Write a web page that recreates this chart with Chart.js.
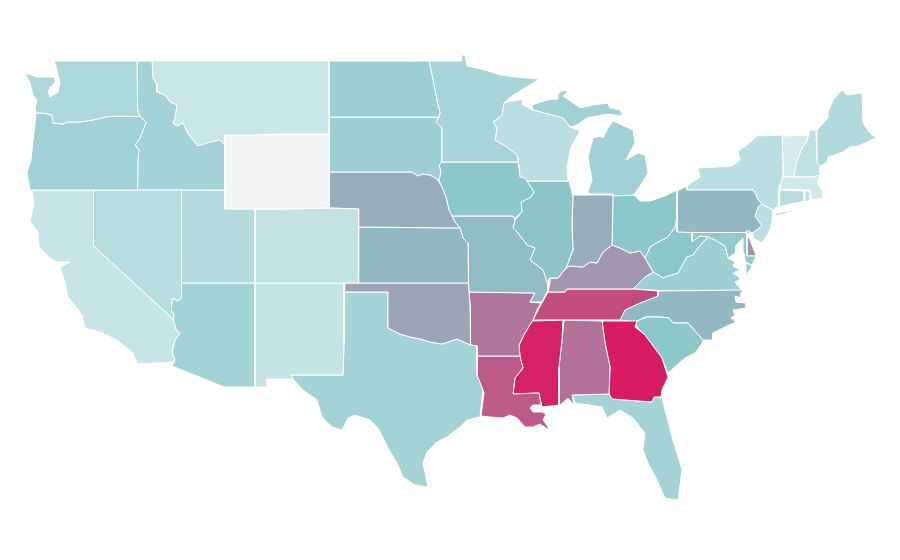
<!DOCTYPE html>
<html>
<head>
<meta charset="utf-8">
<title>US states</title>
<style>
	html, body { margin: 0; padding: 0; background: #fff; }
	canvas { display: block; }
</style>
<script src="https://cdn.jsdelivr.net/npm/chart.js@4"></script>
</head>
<body>
<canvas id="myChart" width="900" height="560"></canvas>
<script>
const states = ['WA','OR','CA','NV','ID','MT','WY','UT','CO','AZ','NM','ND','SD','NE','KS','OK','TX','MN','IA','MO','AR','LA','WI','IL','MI','IN','OH','KY','TN','MS','AL','GA','FL','SC','NC','VA','WV','MD','DE','PA','NY','NJ','CT','RI','MA','VT','NH','ME']
const values = [27,32,17,23,31,16,null,25,19,31,18,34,33,49,45,52,31,30,40,44,68,78,22,41,32,49,40,57,83,98,70,100,31,40,45,33,40,38,57,45,22,22,23,20,14,12,20,26]

// state outlines in map units, one or more flat x,y rings per state
const WA = [[54,61,137,61,137.5,110,140,116.5,108,116.5,93,120,80,122,67,122,63,124,53,123,52,115,43,113,36,113,35,108,37,100,33,95,30,83,25,73,37,77,48,77,54,77,56,82,50,87,48,92,50,97,58,92,60,82,58,76,56,66]]
const OR = [[36,113,43,113,52,115,53,123,63,124,67,122,80,122,93,120,108,116.5,140,116.5,146,122,144,128,140,138,135,145,139,150,138,157,137.5,190,30,190,27,173,31,160,33,140,35,125]]
const CA = [[32,190,93.5,190,93.5,246,173,319,176,330,180,333,175,340,172,352,175,360,172,362,137,364,133,353,117,340,100,332,85,328,82,315,68,297,65,283,60,267,70,262,57,262,50,258,39,247,38,232,30,222,34,203]]
const NV = [[93.5,190,181.5,190,181.5,298,178,301,172,298,171.5,310,174,316,173,319,93.5,246]]
const ID = [[137.5,61,152,61,153,78,157,85,157,92,165,95,170,102,177,105,175,118,173,123,177,126,183,123,187,132,191,138,198,146,207,143,220,140,225,145,225,190,137.5,190,138,157,139,150,135,145,140,138,144,128,146,122,140,116.5,137.5,110]]
const MT = [[152,61,329,61,329,134,285,134,252,135,225,135,225,145,220,140,207,143,198,146,191,138,187,132,183,123,177,126,173,123,175,118,177,105,170,102,165,95,157,92,157,85,153,78]]
const WY = [[225,135,252,135,285,134,329,134,329.5,208,285,209,255,209,225,209]]
const UT = [[181.5,190,225,190,225,209,255,209,255,283,181.5,283]]
const CO = [[255,209,285,209,329.5,208,358.6,209,358.6,283,255,283]]
const AZ = [[181.5,283,255,283,255,387,224,387,172,366,175,360,172,352,175,340,180,333,176,330,173,319,174,316,171.5,310,172,298,178,301,181.5,298]]
const NM = [[255,283,344,283,344,343,343,375,291,375,293,379,267,379,267,387,255,387]]
const ND = [[329,61,429,61,432,75,434,85,436,95,438,105,440,113,439,117,329,117]]
const SD = [[329,117,439,117,436,122,441.7,128,441.7,162,439,165,441,172,439,180,437,179,430,175,422,174,418,176,412,172,329,172]]
const NE = [[329,172,412,172,418,176,422,174,430,175,437,179,441,185,446,197,449,210,455,222,460,228,358.6,227,358.6,209,329.5,208]]
const KS = [[358.6,227,460,228,463,238,468,243,468.5,283,358.6,283]]
const OK = [[345,283,468.5,283,469,292,470,305,470.5,345,457,339,442,344,430,342,420,339,410,337,400,334,388,328,388,292,344.7,292]]
const TX = [[344.7,292,388,292,388,328,400,334,410,337,420,339,430,342,442,344,457,339,470.5,345,477,346,477,375,483,390,480,417,467,420,460,427,447,437,437,442,427,452,423,463,425,473,428,487,415,485,403,477,397,463,388,448,378,428,370,420,355,415,348,418,342,430,332,427,322,417,317,400,303,390,291,377,291,375,343,375,344,343]]
const MN = [[429,61,461,61,461.7,55,465,55,467,66,485,70,500,75,515,77,539,79,530,85,513,95,504,103,502,115,493,122,497,128,495,140,507,147,517,155,518,162,441.7,162,441.7,128,436,122,439,117,440,113,438,105,436,95,434,85,432,75]]
const IA = [[441.7,162,518,162,520,177,525,178,534,192,531,197,521,202,522,212,515,218,513,216,451.7,216,449,210,446,197,441,185,439,180,441,172,439,165]]
const MO = [[451.7,216,513,216,515,220,513,228,517,232,527,245,535,248,530,260,543,270,547,282,548,290,542,302,530,302,535,293,469,292,468.5,283,468,243,463,238,460,228,455,222]]
const AR = [[469,292,535,293,530,302,541,303,537,310,533,320,525,333,519,345,520,356,477,356,477,346,470.5,345,470,305]]
const LA = [[477,356,520,356,523,368,515,378,513,394,539,393,541,405,533,405,530,408,533,412,542,412,546,414,543,420,548,427,549,430,540,424,533,427,525,427,517,418,510,415,503,418,490,417,481,416,484,393,477,377]]
const WI = [[503,103,523,99,523,105,533,110,563,118,570,127,580,131,575,140,571,147,567,167,568,181,528,181,520,177,518,157,507,147,495,140,497,128,493,123,502,115]]
const IL = [[528,181,569,181,573,197,572,223,573,250,566,268,558,278,550,278,547,282,543,270,530,260,535,248,527,245,517,232,513,228,515,220,522,212,521,202,531,197,534,192,525,178,520,177]]
const MI = [
	[590,194,588,192,592,180,588,157,593,138,600,136,603,138,608,128,613,121,620,124,633,130,635,143,626,160,638,153,645,155,648,173,642,183,635,193,634,195,613,196,613,194],
	[532,105,547,100,558,99,558,94,562,91,569,90,563,96,569,100,580,108,593,105,608,103,610,108,620,110,623,116,608,114,597,116,587,118,577,125,570,127,563,118,533,110],
	[549,81,556,78,553,81]
]
const IN = [[573,195,613,195,612,245,603,252,597,263,590,262,583,267,570,266,566,268,573,250,572,223]]
const OH = [[613,195,634,195,640,201,650,201,665,196,677,190,677,217,675,227,668,237,658,242,650,247,645,258,640,251,630,253,620,248,612,245]]
const KY = [[548,292,550,283,550,278,558,278,566,268,570,266,583,267,590,262,597,263,603,252,612,245,620,248,630,253,640,251,645,258,653,272,645,277,633,289,567,289,565,292]]
const TN = [[548,292,565,292,567,289,633,289,658,291,658,296,640,303,625,310,620,320,533,320,538,310]]
const MS = [[532,321,563,320,562,340,559,367,559,405,542,407,539,393,513,394,515,378,523,368,520,358,519,345,525,333]]
const AL = [[564,320,602,321,605,343,610,367,609,394,572,395,574,405,568,398,559,406,559,367,562,340]]
const GA = [[602,321,637,321,635,327,645,335,662,358,668,377,662,390,661,397,654,397,652,402,612,399,609,394,610,367,605,343]]
const FL = [[572,395,609,394,612,399,652,402,654,397,662,398,672,437,682,470,678,500,665,498,657,480,648,463,643,450,645,433,633,418,620,410,607,418,602,407,575,403]]
const SC = [[635,322,647,317,660,317,669,318,673,323,688,323,703,340,703,342,695,353,685,358,677,365,668,373,662,358,645,335,637,327]]
const NC = [[658,291,743,290,741,293,741,298,735,296,736,302,746,303,746,308,733,310,735,315,731,318,736,322,725,327,713,333,713,340,703,340,688,323,673,323,669,318,660,317,645,317,635,322,620,320,625,310,640,303,658,296]]
const VA = [[633,289,645,277,653,272,663,278,678,273,687,257,693,255,698,248,708,237,715,240,725,246,728,258,735,262,733,266,740,270,733,273,741,279,735,282,742,291,667,291]]
const WV = [[677,190,677,232,692,232.5,692,242,700,236,708,237,698,248,693,255,687,257,678,273,663,278,653,272,645,258,650,247,658,242,668,237,675,227,677,217]]
const MD = [
	[692,232.5,747,232.5,747,256,756,256,752,265,746,262,743,250,743,238,736,245,735,253,728,258,725,246,715,240,708,237,700,236,692,242],
	[752,266,746,276,746,263]
]
const DE = [[746,231,750,231,748,235,756,255,756,256,747,256]]
const PA = [[677,191,687,186,687,190,753,190,756,195,758,200,762,204,758,207,755,216,762,226,753,232.5,677,232.5]]
const NY = [
	[687,190,687,186,700,177,698,168,718,167,732,166,740,160,738,151,747,145,757,136,782,135,783,162,783,177,779,188,779,205,773,210,762,204,758,200,756,195,753,190],
	[773,214,802,208,790,212,777,216]
]
const NJ = [[762,204,773,210,772,220,770,230,762,243,753,238,753,232,762,226,755,216,758,207]]
const CT = [[780,190,804,191,804,201,778,207,779,205]]
const RI = [[805,191,810,191,810,200,805,202]]
const MA = [[782,177,813,177,820,175,817,183,822,190,823,197,829,196,822,198,812,200,810,190,780,189]]
const VT = [[782,136,808,135,807,141,802,148,796,163,794,176,783,177,783,162,782,145]]
const NH = [[810,130,816,130,817,162,820,167,820,175,813,177,795,177,794,176,796,163,802,148,807,141]]
const ME = [[817,130,828,118,828,112,833,100,842,90,847,95,862,93,863,123,869,132,876,138,867,142,858,146,850,147,843,152,828,157,827,162,818,168,817,162]]

const outlines = { WA, OR, CA, NV, ID, MT, WY, UT, CO, AZ, NM, ND, SD, NE, KS, OK, TX, MN, IA, MO, AR, LA, WI, IL, MI, IN, OH, KY, TN, MS, AL, GA, FL, SC, NC, VA, WV, MD, DE, PA, NY, NJ, CT, RI, MA, VT, NH, ME }

const noDataColor = '#f3f4f6'
const colorStops = [[0, [243,251,252]], [40, [140,199,202]], [100, [216,28,96]]]

const valueColor = (value) => {
	if (value === null) return noDataColor
	let i = 0
	while (i < colorStops.length - 2 && value > colorStops[i + 1][0]) i++
	const [v0, c0] = colorStops[i]
	const [v1, c1] = colorStops[i + 1]
	const t = (value - v0) / (v1 - v0)
	const rgb = c0.map((c, k) => Math.round(c + (c1[k] - c) * t))
	return `rgb(${rgb.join(',')})`
}

const ringPoints = (ring) => {
	const points = []
	for (let i = 0; i < ring.length; i += 2) points.push({ x: ring[i], y: ring[i + 1] })
	points.push(points[0])
	return points
}

const datasets = []
states.forEach((state, i) => {
	outlines[state].forEach((ring) => {
		datasets.push({
			label: state,
			data: ringPoints(ring),
			showLine: true,
			fill: 'shape',
			backgroundColor: valueColor(values[i]),
			borderColor: '#ffffff',
			borderWidth: 1,
			pointRadius: 0,
			pointHoverRadius: 0,
			clip: false,
		})
	})
})

new Chart(document.getElementById('myChart'), {
	type: 'scatter',
	data: { datasets },
	options: {
		responsive: false,
		animation: false,
		layout: { padding: 0 },
		scales: {
			x: { type: 'linear', display: false, min: 0, max: 900 },
			y: { type: 'linear', display: false, min: 0, max: 560, reverse: true },
		},
		plugins: {
			legend: { display: false },
			tooltip: { enabled: false },
		},
	},
})
</script>
</body>
</html>
